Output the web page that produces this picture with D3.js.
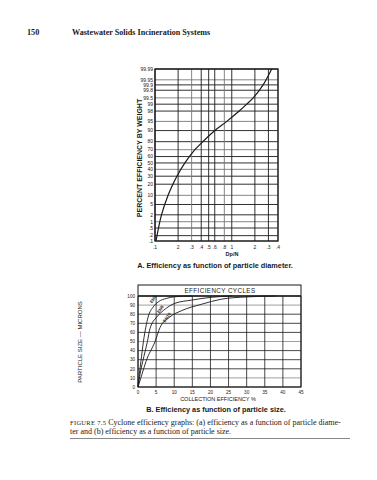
<!DOCTYPE html>
<html>
<head>
<meta charset="utf-8">
<script src="https://cdn.jsdelivr.net/npm/d3@7"></script>
<style>
body { margin: 0; background: #fff; }
svg { display: block; }
</style>
</head>
<body>
<svg width="377" height="480"></svg>
<script>
// chart A: efficiency vs Dp/N
const dpTicks = [0.1, 0.2, 0.3, 0.4, 0.5, 0.6, 0.8, 1, 2, 3, 4];
const dpTickLabels = [".1", "2", ".3", ".4", ".5", ".6", ".8", "1", "2", ".3", ".4"];
const pctTicks = [99.99, 99.95, 99.9, 99.8, 99.5, 99, 98, 95, 90, 80, 70, 60, 50, 40, 30, 20, 10, 5, 2, 1, 0.5, 0.2, 0.1];
const pctTickLabels = ["99.99", "99.95", "99.9", "99.8", "99.5", "99", "98", "95", "90", "80", "70", "60", "50", "40", "30", "20", "10", "5", "2", "1", ".5", ".2", ".1"];
const curveDp = [0.103, 0.111, 0.1215, 0.148, 0.171, 0.193, 0.245, 0.331, 0.42, 0.602, 0.861, 1.25, 1.566, 1.902, 2.56, 3.31];
const curvePct = [0.1, 0.5, 2, 10, 20, 30, 50, 70, 80, 90, 95, 98, 99, 99.5, 99.9, 99.99];

// chart B: efficiency cycles
const effTicks = [0, 5, 10, 15, 20, 25, 30, 35, 40, 45];
const sizeTicks = [0, 10, 20, 30, 40, 50, 60, 70, 80, 90, 100];
const cycleNames = ["EN6", "EN8", "EN10"];
const cycleEff = [
    [0, 0.4, 0.8, 1.5, 2.8, 4.2, 5.6, 7.9, 10.2, 15],
    [0, 0.6, 1.3, 2.6, 3.3, 5.2, 7.0, 10.2, 14.8, 20, 26],
    [0, 1.1, 2.2, 4.7, 6.1, 8.8, 12.1, 17.6, 23, 30, 38]
];
const cycleSize = [
    [0, 15, 28, 50, 77, 88, 93.6, 97.4, 99.2, 100],
    [0, 15, 28, 50, 64, 77, 84, 92, 95.5, 98.5, 100],
    [0, 14, 28, 50, 65.5, 77, 84, 91, 96.5, 99, 100]
];
const cycleLabelEff = [4.5, 6.5, 8.3];
const cycleLabelSize = [95.5, 84.5, 75.5];

// inverse normal cdf (Acklam) for the probability axis
function probit(p) {
    const a = [-39.6968302866538, 220.946098424521, -275.928510446969, 138.357751867269, -30.6647980661472, 2.50662827745924];
    const b = [-54.4760987982241, 161.585836858041, -155.698979859887, 66.8013118877197, -13.2806815528857];
    const c = [-0.00778489400243029, -0.322396458041136, -2.40075827716184, -2.54973253934373, 4.37466414146497, 2.93816398269878];
    const d = [0.00778469570904146, 0.32246712907004, 2.445134137143, 3.75440866190742];
    const pl = 0.02425;
    let q, r;
    if (p < pl) {
        q = Math.sqrt(-2 * Math.log(p));
        return (((((c[0] * q + c[1]) * q + c[2]) * q + c[3]) * q + c[4]) * q + c[5]) / ((((d[0] * q + d[1]) * q + d[2]) * q + d[3]) * q + 1);
    }
    if (p > 1 - pl) {
        q = Math.sqrt(-2 * Math.log(1 - p));
        return -(((((c[0] * q + c[1]) * q + c[2]) * q + c[3]) * q + c[4]) * q + c[5]) / ((((d[0] * q + d[1]) * q + d[2]) * q + d[3]) * q + 1);
    }
    q = p - 0.5;
    r = q * q;
    return (((((a[0] * r + a[1]) * r + a[2]) * r + a[3]) * r + a[4]) * r + a[5]) * q / (((((b[0] * r + b[1]) * r + b[2]) * r + b[3]) * r + b[4]) * r + 1);
}

const svg = d3.select("svg");
const sans = "'Liberation Sans', Arial, sans-serif";
const serif = "'Liberation Serif', 'Times New Roman', serif";
const ink = "#1a1a1a";

// page header
svg.append("text").attr("x", 27).attr("y", 35).attr("font-family", serif)
    .attr("font-weight", "bold").attr("font-size", 8.2).attr("fill", ink).text("150");
svg.append("text").attr("x", 72).attr("y", 35).attr("font-family", serif)
    .attr("font-weight", "bold").attr("font-size", 8.1).attr("fill", ink)
    .text("Wastewater Solids Incineration Systems");

// ---------- chart A ----------
const areaA = { left: 155, right: 278, top: 69, bottom: 241 };
const zScale = d3.scaleLinear()
    .domain([probit(0.001), probit(0.9999)])
    .range([areaA.bottom, areaA.top]);
const yA = p => zScale(probit(p / 100));
const xA = d3.scaleLog().domain([0.1, 4]).range([areaA.left, areaA.right]);

const gA = svg.append("g");
gA.selectAll("line.h").data(pctTicks).enter().append("line")
    .attr("x1", areaA.left).attr("x2", areaA.right)
    .attr("y1", d => yA(d)).attr("y2", d => yA(d))
    .attr("stroke", (d, i) => i % 3 === 1 ? "#777" : ink).attr("stroke-width", 0.9);
gA.selectAll("line.v").data(dpTicks).enter().append("line")
    .attr("y1", areaA.top).attr("y2", areaA.bottom)
    .attr("x1", d => xA(d)).attr("x2", d => xA(d))
    .attr("stroke", (d, i) => i % 4 === 2 ? "#777" : ink).attr("stroke-width", 0.9);
gA.append("rect").attr("x", areaA.left).attr("y", areaA.top)
    .attr("width", areaA.right - areaA.left).attr("height", areaA.bottom - areaA.top)
    .attr("fill", "none").attr("stroke", ink).attr("stroke-width", 1.3);

gA.selectAll("text.yl").data(pctTicks).enter().append("text")
    .attr("x", areaA.left - 2).attr("y", d => yA(d) + 1.8)
    .attr("text-anchor", "end").attr("font-family", sans).attr("font-size", 5)
    .attr("fill", ink).text((d, i) => pctTickLabels[i]);
gA.selectAll("text.xl").data(dpTicks).enter().append("text")
    .attr("x", d => xA(d)).attr("y", areaA.bottom + 8)
    .attr("text-anchor", "middle").attr("font-family", sans).attr("font-size", 5)
    .attr("fill", ink).text((d, i) => dpTickLabels[i]);

const lineA = d3.line()
    .x(d => xA(d[0]))
    .y(d => yA(d[1]))
    .curve(d3.curveCatmullRom);
gA.append("path").datum(curveDp.map((d, i) => [d, curvePct[i]]))
    .attr("d", lineA).attr("fill", "none").attr("stroke", ink).attr("stroke-width", 1.2);

gA.append("text").attr("transform", `translate(142, 158) rotate(-90)`)
    .attr("text-anchor", "middle").attr("font-family", sans).attr("font-weight", "bold")
    .attr("font-size", 7).attr("fill", ink).text("PERCENT EFFICIENCY BY WEIGHT");
gA.append("text").attr("x", 232).attr("y", 256).attr("text-anchor", "middle")
    .attr("font-family", sans).attr("font-weight", "bold").attr("font-size", 5.5)
    .attr("fill", ink).text("Dp/N");
gA.append("text").attr("x", 215).attr("y", 268).attr("text-anchor", "middle")
    .attr("font-family", sans).attr("font-weight", "bold").attr("font-size", 7.3)
    .attr("fill", ink).text("A.  Efficiency as function of particle diameter.");

// ---------- chart B ----------
const areaB = { left: 138, right: 301, top: 296, bottom: 387, head: 285 };
const xB = d3.scaleLinear().domain([0, 45]).range([areaB.left, areaB.right]);
const yB = d3.scaleLinear().domain([0, 100]).range([areaB.bottom, areaB.top]);

const gB = svg.append("g");
gB.selectAll("line.h").data(sizeTicks).enter().append("line")
    .attr("x1", areaB.left).attr("x2", areaB.right)
    .attr("y1", d => yB(d)).attr("y2", d => yB(d))
    .attr("stroke", (d, i) => i % 4 === 1 ? "#888" : ink).attr("stroke-width", 0.8);
gB.selectAll("line.v").data(effTicks).enter().append("line")
    .attr("y1", areaB.top).attr("y2", areaB.bottom)
    .attr("x1", d => xB(d)).attr("x2", d => xB(d))
    .attr("stroke", ink).attr("stroke-width", 0.8);
gB.append("rect").attr("x", areaB.left).attr("y", areaB.head)
    .attr("width", areaB.right - areaB.left).attr("height", areaB.bottom - areaB.head)
    .attr("fill", "none").attr("stroke", ink).attr("stroke-width", 1);
gB.append("line").attr("x1", areaB.left).attr("x2", areaB.right)
    .attr("y1", yB(100)).attr("y2", yB(100)).attr("stroke", ink).attr("stroke-width", 1.6);

gB.selectAll("text.yl").data(sizeTicks).enter().append("text")
    .attr("x", areaB.left - 3).attr("y", d => yB(d) + 1.7)
    .attr("text-anchor", "end").attr("font-family", sans).attr("font-size", 4.6)
    .attr("fill", ink).text(d => d);
gB.selectAll("text.xl").data(effTicks).enter().append("text")
    .attr("x", d => xB(d)).attr("y", areaB.bottom + 7)
    .attr("text-anchor", "middle").attr("font-family", sans).attr("font-size", 4.6)
    .attr("fill", ink).text(d => d);

const lineB = d3.line()
    .x(d => xB(d[0]))
    .y(d => yB(d[1]))
    .curve(d3.curveMonotoneX);
cycleNames.forEach((name, k) => {
    gB.append("path").datum(cycleEff[k].map((d, i) => [d, cycleSize[k][i]]))
        .attr("d", lineB).attr("fill", "none").attr("stroke", ink).attr("stroke-width", 0.9);
    gB.append("text")
        .attr("transform", `translate(${xB(cycleLabelEff[k])}, ${yB(cycleLabelSize[k])}) rotate(-55)`)
        .attr("text-anchor", "middle").attr("font-family", sans).attr("font-weight", "bold")
        .attr("font-size", 4.3).attr("fill", ink).text(name);
});

gB.append("text").attr("x", 220).attr("y", 293).attr("text-anchor", "middle")
    .attr("font-family", sans).attr("font-size", 6.3).attr("letter-spacing", 0.4)
    .attr("fill", ink).text("EFFICIENCY CYCLES");
gB.append("text").attr("transform", `translate(82, 342) rotate(-90)`)
    .attr("text-anchor", "middle").attr("font-family", sans)
    .attr("font-size", 6).attr("fill", ink).text("PARTICLE SIZE — MICRONS");
gB.append("text").attr("x", 218).attr("y", 401).attr("text-anchor", "middle")
    .attr("font-family", sans).attr("font-size", 5.5)
    .attr("fill", ink).text("COLLECTION EFFICIENCY %");
gB.append("text").attr("x", 216).attr("y", 412).attr("text-anchor", "middle")
    .attr("font-family", sans).attr("font-weight", "bold").attr("font-size", 7.3)
    .attr("fill", ink).text("B.  Efficiency as function of particle size.");

// figure caption
const cap = svg.append("text").attr("x", 70).attr("y", 425).attr("font-family", serif)
    .attr("font-size", 8).attr("fill", ink);
cap.append("tspan").attr("font-size", 6.5).attr("letter-spacing", 0.3).text("FIGURE 7.5");
cap.append("tspan").text("   Cyclone efficiency graphs: (a) efficiency as a function of particle diame-");
svg.append("text").attr("x", 70).attr("y", 434).attr("font-family", serif)
    .attr("font-size", 8).attr("fill", ink)
    .text("ter and (b) efficiency as a function of particle size.");
svg.append("line").attr("x1", 70).attr("x2", 350).attr("y1", 438.5).attr("y2", 438.5)
    .attr("stroke", "#555").attr("stroke-width", 0.7);
</script>
</body>
</html>
